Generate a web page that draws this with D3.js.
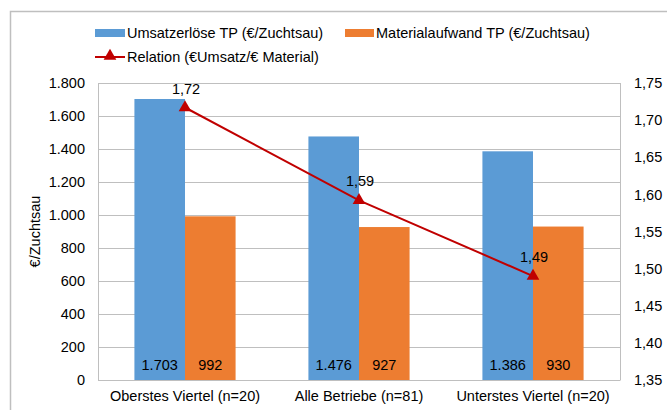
<!DOCTYPE html>
<html>
  <head>
    <meta charset="utf-8">
    <style>
      body { margin: 0; background: #fff; }
      svg { display: block; font-family: "Liberation Sans", Arial, sans-serif; }
      .grid line { stroke: #bfbfbf; stroke-width: 1px; }
      .lbl { font-size: 14.5px; fill: #000; }
    </style>
  </head>
  <body>
    <svg id="chart"></svg>
    <script src="https://cdnjs.cloudflare.com/ajax/libs/d3/7.8.5/d3.min.js"></script>
    <script>
      var categories = ['Oberstes Viertel (n=20)', 'Alle Betriebe (n=81)', 'Unterstes Viertel (n=20)'];
      var umsatz = [1703, 1476, 1386];
      var material = [992, 927, 930];
      var relation = [1.717, 1.592, 1.490];
      var leftTicks = [0, 200, 400, 600, 800, 1000, 1200, 1400, 1600, 1800];
      var rightTicks = [1.35, 1.40, 1.45, 1.50, 1.55, 1.60, 1.65, 1.70, 1.75];
      var seriesNames = ['Umsatzerlöse TP (€/Zuchtsau)', 'Materialaufwand TP (€/Zuchtsau)', 'Relation (€Umsatz/€ Material)'];

      var W = 667, H = 410,
          pL = 98, pR = 620, pT = 83, pB = 380;

      var blue = '#5b9bd5', orange = '#ed7d31', red = '#c00000';

      var svg = d3.select('#chart').attr('width', W).attr('height', H);

      // outer chart frame
      svg.append('rect')
         .attr('x', 10.5).attr('y', 11.5).attr('width', 700).attr('height', 440)
         .style('fill', 'none').style('stroke', '#bfbfbf').style('stroke-width', 1.5);

      var x = d3.scaleBand().domain(categories).range([pL, pR]);
      var xi = d3.scaleBand().domain([0, 1]).range([0, x.bandwidth()]).paddingInner(0).paddingOuter(0.72);
      var y = d3.scaleLinear().domain([0, 1800]).range([pB, pT]);
      var y2 = d3.scaleLinear().domain([1.35, 1.75]).range([pB, pT]);

      var fmtDe = d3.formatLocale({decimal: ',', thousands: '.', grouping: [3], currency: ['', '€']});
      var fInt = fmtDe.format(',d'), f2 = fmtDe.format('.2f');

      // gridlines
      var grid = svg.append('g').attr('class', 'grid');
      grid.selectAll('line.h').data(leftTicks).enter().append('line')
          .attr('x1', pL).attr('x2', pR)
          .attr('y1', function(d){ return Math.round(y(d)) + 0.5; })
          .attr('y2', function(d){ return Math.round(y(d)) + 0.5; });
      grid.selectAll('line.v').data([pL, pR]).enter().append('line')
          .attr('x1', function(d){ return d + 0.5; }).attr('x2', function(d){ return d + 0.5; })
          .attr('y1', pT).attr('y2', pB);

      // bars
      var groups = svg.selectAll('g.cat').data(categories).enter().append('g')
          .attr('transform', function(d){ return 'translate(' + x(d) + ',0)'; });

      groups.append('rect')
          .attr('x', xi(0)).attr('width', xi.bandwidth())
          .attr('y', function(d, i){ return y(umsatz[i]); })
          .attr('height', function(d, i){ return pB - y(umsatz[i]); })
          .style('fill', blue);
      groups.append('rect')
          .attr('x', xi(1)).attr('width', xi.bandwidth())
          .attr('y', function(d, i){ return y(material[i]); })
          .attr('height', function(d, i){ return pB - y(material[i]); })
          .style('fill', orange);

      groups.append('text').attr('class', 'lbl')
          .attr('x', xi(0) + xi.bandwidth() / 2).attr('y', 370)
          .attr('text-anchor', 'middle')
          .text(function(d, i){ return fInt(umsatz[i]); });
      groups.append('text').attr('class', 'lbl')
          .attr('x', xi(1) + xi.bandwidth() / 2).attr('y', 370)
          .attr('text-anchor', 'middle')
          .text(function(d, i){ return fInt(material[i]); });

      // left axis
      var yAxis = svg.append('g').attr('transform', 'translate(' + pL + ',0)')
          .call(d3.axisLeft(y).tickValues(leftTicks).tickSize(0).tickPadding(13).tickFormat(fInt));
      yAxis.select('.domain').remove();

      // right axis
      var y2Axis = svg.append('g').attr('transform', 'translate(' + pR + ',0)')
          .call(d3.axisRight(y2).tickValues(rightTicks).tickSize(0).tickPadding(14).tickFormat(f2));
      y2Axis.select('.domain').remove();

      // bottom axis
      var xAxis = svg.append('g').attr('transform', 'translate(0,' + pB + ')')
          .call(d3.axisBottom(x).tickSize(0).tickPadding(11));
      xAxis.select('.domain').attr('stroke', '#bfbfbf');

      svg.selectAll('g.tick text').attr('class', 'lbl').attr('fill', null);
      [yAxis, y2Axis, xAxis].forEach(function(a){ a.attr('font-size', null).attr('font-family', null); });

      // axis title
      svg.append('text').attr('class', 'lbl')
          .attr('transform', 'translate(40,' + (pT + pB) / 2 + ')rotate(-90)')
          .attr('text-anchor', 'middle')
          .text('€/Zuchtsau');

      // relation line
      var cx = function(i){ return x(categories[i]) + x.bandwidth() / 2; };
      var line = d3.line()
          .x(function(d, i){ return cx(i); })
          .y(function(d){ return y2(d); });
      svg.append('path').datum(relation)
          .attr('d', line)
          .style('fill', 'none').style('stroke', red).style('stroke-width', 2);
      var tri = d3.symbol().type(d3.symbolTriangle).size(70);
      svg.selectAll('path.mk').data(relation).enter().append('path')
          .attr('transform', function(d, i){ return 'translate(' + cx(i) + ',' + y2(d) + ')'; })
          .attr('d', tri).style('fill', red);
      svg.selectAll('text.rel').data(relation).enter().append('text')
          .attr('class', 'lbl')
          .attr('x', function(d, i){ return cx(i) + 1; })
          .attr('y', function(d){ return y2(d) - 14; })
          .attr('text-anchor', 'middle')
          .text(function(d){ return f2(d); });

      // legend
      var leg = svg.append('g');
      leg.append('rect').attr('x', 95).attr('y', 29).attr('width', 30).attr('height', 8).style('fill', blue);
      leg.append('text').attr('class', 'lbl').attr('x', 127).attr('y', 38).text(seriesNames[0]);
      leg.append('rect').attr('x', 345).attr('y', 29).attr('width', 29).attr('height', 8).style('fill', orange);
      leg.append('text').attr('class', 'lbl').attr('x', 376).attr('y', 38).text(seriesNames[1]);
      leg.append('line').attr('x1', 95).attr('x2', 125).attr('y1', 57).attr('y2', 57)
          .style('stroke', red).style('stroke-width', 2);
      leg.append('path').attr('transform', 'translate(110,56)').attr('d', tri).style('fill', red);
      leg.append('text').attr('class', 'lbl').attr('x', 127).attr('y', 62).text(seriesNames[2]);
    </script>
  </body>
</html>
